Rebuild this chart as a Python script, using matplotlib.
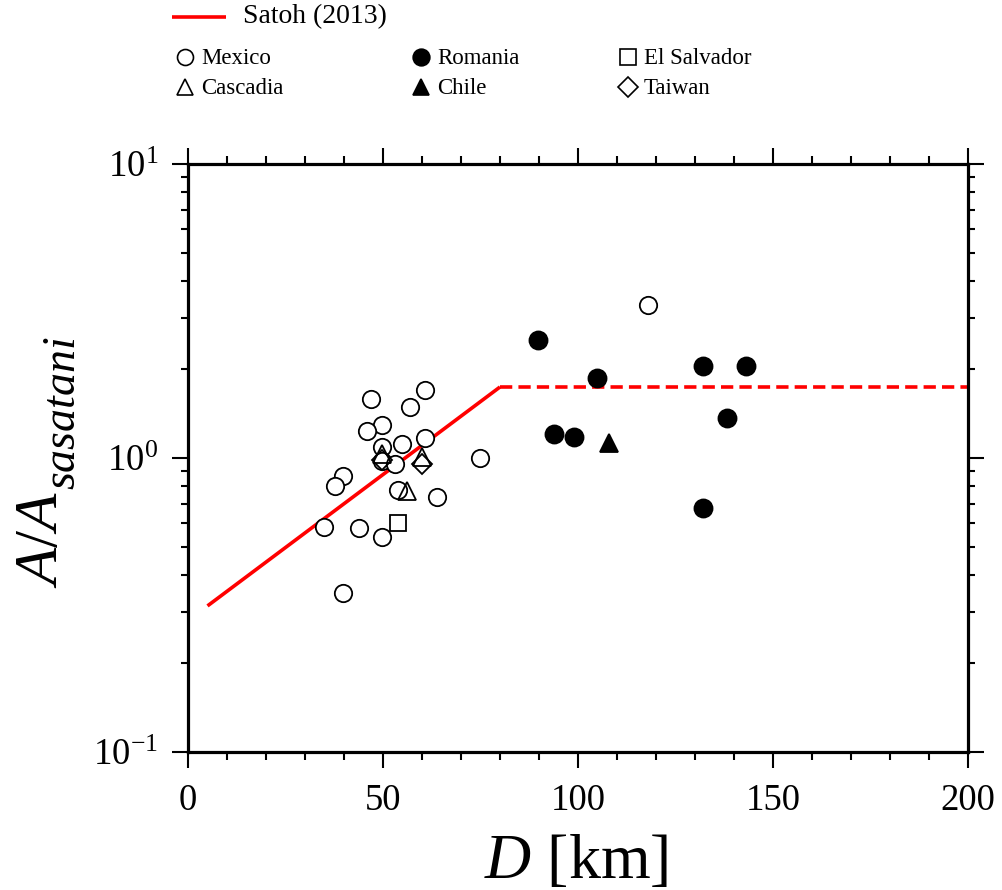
import matplotlib
matplotlib.use("Agg")
import matplotlib.pyplot as plt
from matplotlib.ticker import FixedLocator, FixedFormatter, NullFormatter
import numpy as np

plt.rcParams['font.family'] = ['Liberation Serif', 'DejaVu Serif']
plt.rcParams['mathtext.fontset'] = 'custom'
plt.rcParams['mathtext.rm'] = 'Liberation Serif'
plt.rcParams['mathtext.it'] = 'Liberation Serif:italic'

# ---------------- data ----------------
mexico_D = [46.9, 60.8, 56.9, 49.7, 45.8, 60.8, 55.0, 49.7, 49.7, 53.1,
            74.9, 39.8, 37.7, 53.9, 63.8, 34.9, 43.8, 49.8, 39.8, 118.0]
mexico_A = [1.59, 1.70, 1.49, 1.30, 1.235, 1.17, 1.12, 1.09, 0.98, 0.954,
            1.00, 0.87, 0.80, 0.778, 0.739, 0.581, 0.576, 0.54, 0.347, 3.31]

romania_D = [89.8, 105.0, 132.1, 143.0, 138.1, 93.9, 99.1, 132.1]
romania_A = [2.51, 1.87, 2.055, 2.055, 1.371, 1.207, 1.18, 0.674]

salvador_D = [53.9]
salvador_A = [0.603]

cascadia_D = [49.7, 59.9, 56.1]
cascadia_A = [1.03, 1.008, 0.773]

chile_D = [108.0]
chile_A = [1.125]

taiwan_D = [49.7, 59.9]
taiwan_A = [0.985, 0.952]

satoh_D = [5.0, 80.0]
satoh_A = [0.314, 1.744]
satoh_flat_D = [80.0, 200.0]
satoh_flat_A = [1.744, 1.744]

legend_line_label = "Satoh (2013)"
legend_labels = ["Mexico", "Romania", "El Salvador", "Cascadia", "Chile", "Taiwan"]

xticks = [0, 50, 100, 150, 200]
xtick_labels = ["0", "50", "100", "150", "200"]
yticks = [0.1, 1.0, 10.0]
ytick_labels = [r"$\mathregular{10^{-1}}$", r"$\mathregular{10^{0}}$", r"$\mathregular{10^{1}}$"]

# ---------------- figure ----------------
W, H = 1003, 890
fig = plt.figure(figsize=(W / 100, H / 100), dpi=100)
L, R, T, B = 188, 968, 164, 752
ax = fig.add_axes([L / W, 1 - B / H, (R - L) / W, (B - T) / H])

ax.set_xlim(0, 200)
ax.set_yscale('log')
ax.set_ylim(0.1, 10)

red = '#ff0000'
ax.plot(satoh_D, satoh_A, color=red, lw=2.6, solid_capstyle='butt', zorder=2)
ax.plot(satoh_flat_D, satoh_flat_A, color=red, lw=2.6, dashes=(3.4, 1.7), zorder=2)

mew = 1.3
ax.plot(mexico_D, mexico_A, 'o', ms=12.5, mfc='white', mec='black', mew=mew, ls='none', zorder=3)
ax.plot(romania_D, romania_A, 'o', ms=13, mfc='black', mec='black', mew=mew, ls='none', zorder=3)
ax.plot(salvador_D, salvador_A, 's', ms=11, mfc='none', mec='black', mew=mew, ls='none', zorder=3)
ax.plot(cascadia_D, cascadia_A, '^', ms=13, mfc='none', mec='black', mew=mew, ls='none', zorder=4)
ax.plot(chile_D, chile_A, '^', ms=13.5, mfc='black', mec='black', mew=mew, ls='none', zorder=3)
ax.plot(taiwan_D, taiwan_A, 'D', ms=10.5, mfc='none', mec='black', mew=mew, ls='none', zorder=4)

for s in ax.spines.values():
    s.set_linewidth(2.3)

ax.xaxis.set_major_locator(FixedLocator(xticks))
ax.xaxis.set_major_formatter(FixedFormatter(xtick_labels))
ax.xaxis.set_minor_locator(FixedLocator(np.arange(0, 201, 10)))
ax.yaxis.set_major_locator(FixedLocator(yticks))
ax.yaxis.set_major_formatter(FixedFormatter(ytick_labels))
minor_y = [m * 10.0 ** e for e in (-1, 0) for m in range(2, 10)]
ax.yaxis.set_minor_locator(FixedLocator(minor_y))
ax.yaxis.set_minor_formatter(NullFormatter())

ax.tick_params(which='both', direction='out', top=True, right=True, width=1.5)
ax.tick_params(axis='x', which='major', length=11.5, pad=11, labelsize=26.5)
ax.tick_params(axis='y', which='major', length=11.5, pad=10, labelsize=26.5)
ax.tick_params(axis='x', which='minor', length=5.8)
ax.tick_params(axis='y', which='minor', length=4.7)

# axis labels
fig.text(576 / W, 1 - 878 / H, r"$D$ [km]", fontsize=46, ha='center', va='baseline')
fig.text(57 / W, 1 - 588 / H, r"$A/A$", fontsize=44, rotation=90,
         rotation_mode='anchor', ha='left', va='baseline')
fig.text(75 / W, 1 - 490 / H, r"$sasatani$", fontsize=33, rotation=90,
         rotation_mode='anchor', ha='left', va='baseline')

# legend (overlay in pixel coordinates)
lax = fig.add_axes([0, 0, 1, 1], facecolor='none')
lax.set_xlim(0, W)
lax.set_ylim(H, 0)
lax.axis('off')
lax.plot([172, 226], [17, 17], color=red, lw=2.6, solid_capstyle='butt')
lax.text(243, 17, legend_line_label, fontsize=20, va='center', ha='left')

leg_markers = [('o', 'white'), ('o', 'black'), ('s', 'white'),
               ('^', 'white'), ('^', 'black'), ('D', 'white')]
leg_ms = [11.5, 12, 11, 12, 12, 10.5]
col_x = [185, 421, 628]
row_y = [57, 87]
for i, lab in enumerate(legend_labels):
    cx = col_x[i % 3]
    cy = row_y[i // 3]
    mk, fc = leg_markers[i]
    lax.plot([cx], [cy], mk, ms=leg_ms[i], mfc=fc, mec='black', mew=1.2)
    lax.text(cx + 16, cy + 1, lab, fontsize=16.5, va='center', ha='left')

fig.savefig("out.png", dpi=100)
